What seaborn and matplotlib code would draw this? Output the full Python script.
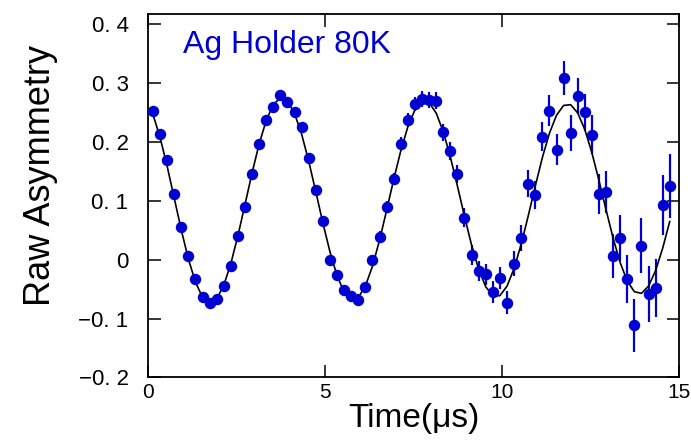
import numpy as np
import pandas as pd
import matplotlib
matplotlib.use("Agg")
import matplotlib.pyplot as plt
import seaborn as sns

# muSR time spectrum, Ag holder at 80 K
time_us = [0.14, 0.34, 0.54, 0.74, 0.94, 1.14, 1.34, 1.54, 1.74, 1.94,
           2.14, 2.34, 2.54, 2.74, 2.94, 3.14, 3.34, 3.54, 3.74, 3.94,
           4.14, 4.34, 4.54, 4.74, 4.94, 5.14, 5.34, 5.54, 5.74, 5.94,
           6.14, 6.34, 6.54, 6.74, 6.94, 7.14, 7.34, 7.54, 7.74, 7.94,
           8.14, 8.34, 8.54, 8.74, 8.94, 9.14, 9.34, 9.54, 9.74, 9.94,
           10.14, 10.34, 10.54, 10.74, 10.94, 11.14, 11.34, 11.54, 11.74, 11.94,
           12.14, 12.34, 12.54, 12.74, 12.94, 13.14, 13.34, 13.54, 13.74, 13.94,
           14.14, 14.34, 14.54, 14.74]

asym = [0.253, 0.213, 0.169, 0.112, 0.056, 0.006, -0.033, -0.064, -0.074, -0.066,
        -0.045, -0.010, 0.040, 0.090, 0.146, 0.197, 0.237, 0.260, 0.279, 0.267,
        0.251, 0.225, 0.172, 0.118, 0.066, 0.000, -0.026, -0.051, -0.062, -0.068,
        -0.047, -0.001, 0.039, 0.090, 0.137, 0.197, 0.237, 0.264, 0.273, 0.271,
        0.270, 0.216, 0.184, 0.146, 0.071, 0.008, -0.019, -0.025, -0.055, -0.031,
        -0.073, -0.007, 0.037, 0.129, 0.110, 0.209, 0.253, 0.187, 0.309, 0.215,
        0.278, 0.250, 0.212, 0.112, 0.115, 0.006, 0.037, -0.033, -0.111, 0.024,
        -0.058, -0.048, 0.093, 0.125]

asym_err = [0.003, 0.003, 0.003, 0.003, 0.003, 0.004, 0.004, 0.004, 0.004, 0.004,
            0.004, 0.004, 0.005, 0.005, 0.005, 0.005, 0.005, 0.005, 0.006, 0.006,
            0.006, 0.006, 0.007, 0.007, 0.007, 0.007, 0.008, 0.008, 0.008, 0.009,
            0.009, 0.009, 0.010, 0.010, 0.011, 0.011, 0.012, 0.012, 0.013, 0.013,
            0.014, 0.014, 0.015, 0.015, 0.016, 0.017, 0.017, 0.018, 0.019, 0.019,
            0.020, 0.021, 0.022, 0.023, 0.024, 0.025, 0.026, 0.027, 0.029, 0.030,
            0.031, 0.032, 0.033, 0.034, 0.035, 0.037, 0.039, 0.041, 0.045, 0.046,
            0.047, 0.049, 0.051, 0.055]

# fitted curve, read at the same times
fit = [0.2465, 0.2077, 0.1589, 0.1048, 0.0505, 0.0013, -0.0380, -0.0638, -0.0736, -0.0667,
       -0.0435, -0.0066, 0.0408, 0.0938, 0.1475, 0.1966, 0.2365, 0.2635, 0.2748, 0.2696,
       0.2483, 0.2131, 0.1673, 0.1154, 0.0624, 0.0134, -0.0271, -0.0550, -0.0678, -0.0643,
       -0.0448, -0.0114, 0.0328, 0.0836, 0.1359, 0.1847, 0.2256, 0.2545, 0.2686, 0.2668,
       0.2491, 0.2175, 0.1749, 0.1253, 0.0738, 0.0251, -0.0162, -0.0459, -0.0613, -0.0611,
       -0.0452, -0.0153, 0.0258, 0.0740, 0.1248, 0.1733, 0.2147, 0.2452, 0.2619, 0.2632,
       0.2491, 0.2210, 0.1815, 0.1345, 0.0846, 0.0364, -0.0052, -0.0364, -0.0543, -0.0572,
       -0.0448, -0.0184, 0.0196, 0.0652]

yticks = [-0.2, -0.1, 0.0, 0.1, 0.2, 0.3, 0.4]
ytick_labels = ["\u22120. 2", "\u22120. 1", "0", "0. 1", "0. 2", "0. 3", "0. 4"]
xticks = [0, 5, 10, 15]

df = pd.DataFrame({"t": time_us, "a": asym, "err": asym_err, "fit": fit})

sns.set_style("ticks")
plt.rcParams["font.family"] = ["Liberation Sans", "DejaVu Sans"]
plt.rcParams.update({"text.color": "black", "axes.labelcolor": "black",
                     "xtick.color": "black", "ytick.color": "black"})

blue = "#0000d2"

fig = plt.figure(figsize=(6.91, 4.43), dpi=100)
ax = fig.add_axes([0.2142, 0.1479, 0.7684, 0.8216])

ax.errorbar(df["t"], df["a"], yerr=df["err"], fmt="none", ecolor=blue,
            elinewidth=1.6, capsize=0, zorder=2)
sns.lineplot(data=df, x="t", y="fit", color="black", linewidth=1.2, ax=ax, zorder=3)
sns.scatterplot(data=df, x="t", y="a", color=blue, s=68, edgecolor=blue,
                linewidth=0, ax=ax, zorder=4)

ax.set_xlim(0, 15)
ax.set_ylim(-0.2, 0.418)
ax.tick_params(axis="both", direction="in", length=9, width=1.1,
               top=True, right=True, color="black", labelsize=14)
ax.tick_params(axis="x", pad=4)
ax.tick_params(axis="y", pad=14)
ax.set_xticks(xticks)
ax.set_xticklabels([str(v) for v in xticks])
ax.set_yticks(yticks)
ax.set_yticklabels(ytick_labels)
for lab in ax.get_yticklabels():
    lab.set_fontsize(16)
for lab in ax.get_xticklabels():
    lab.set_fontsize(15)
for sp in ax.spines.values():
    sp.set_linewidth(1.3)
    sp.set_color("black")

ax.set_xlabel("Time(\u03bcs)", fontsize=24, labelpad=1)
ax.set_ylabel("Raw Asymmetry", fontsize=26)
ax.yaxis.set_label_coords(-0.17, 0.556)

ax.text(0.066, 0.891, "Ag Holder 80K", transform=ax.transAxes, color=blue,
        fontsize=23, ha="left", va="baseline")

fig.savefig("out.png", dpi=100)
